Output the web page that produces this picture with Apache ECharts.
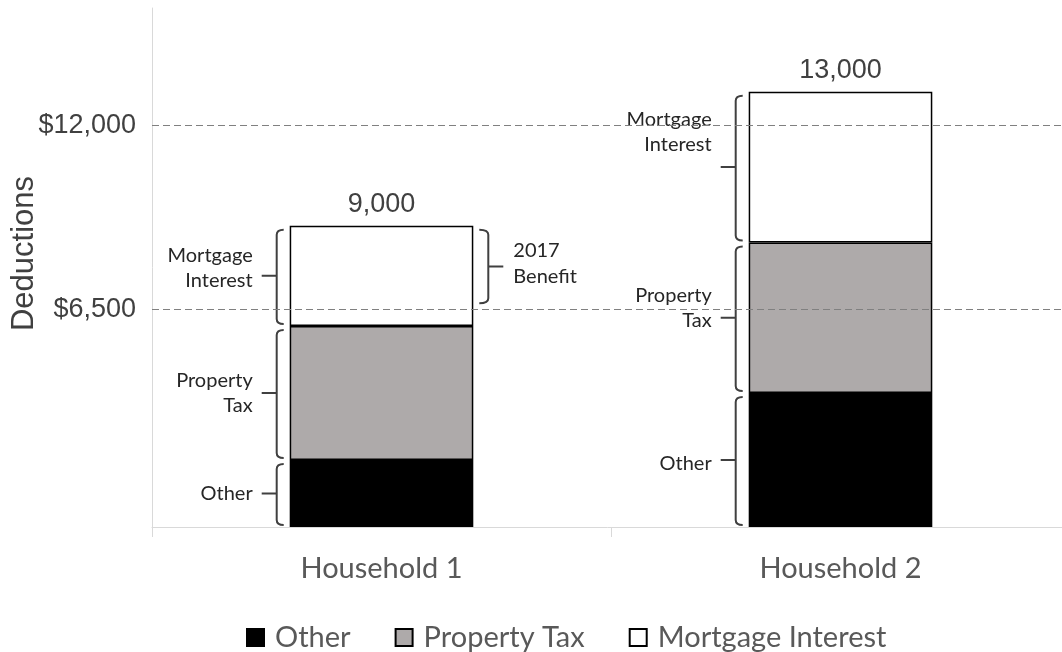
<!DOCTYPE html>
<html>
<head>
<meta charset="utf-8">
<title>Deductions by household</title>
<script src="https://cdn.jsdelivr.net/npm/echarts@6/dist/echarts.min.js"></script>
<style>
  html, body { margin: 0; padding: 0; background: #ffffff; }
  #chart { width: 1062px; height: 652px; }
</style>
</head>
<body>
<div id="chart"></div>
<script>
// Deduction components per household (dollars)
const categories = ['Household 1', 'Household 2'];
const otherValues = [2000, 4000];
const propertyTaxValues = [4000, 4500];
const mortgageValues = [3000, 4500];

// Reference thresholds drawn as dashed lines, with their axis labels
const thresholdValues = [6500, 12000];
const thresholdLabels = ['$6,500', '$12,000'];

// Bracket annotations
const seriesNames = ['Other', 'Property Tax', 'Mortgage Interest'];
const bracketTexts = ['Other', 'Property\nTax', 'Mortgage\nInterest'];
const benefitText = '2017\nBenefit';
const benefitCategory = 0;

// ---- derived values ----
const stacks = [otherValues, propertyTaxValues, mortgageValues];
const totals = categories.map((_, i) => stacks.reduce((s, arr) => s + arr[i], 0));

// one bracket per stacked segment: [categoryIndex, low, high, segmentIndex]
const bracketData = [];
categories.forEach((_, i) => {
  let base = 0;
  stacks.forEach((arr, s) => {
    bracketData.push([i, base, base + arr[i], s]);
    base += arr[i];
  });
});
const benefitData = [[benefitCategory, thresholdValues[0], totals[benefitCategory]]];

// layout settings for the annotations
const BAR_RATIO = 0.4;
const noteShiftY = [[0, 0, -8], [4, -10, -35]];
const INK = '#404040';
const LABEL_FONT = '"Liberation Sans", Arial, sans-serif';
const NOTE_FONT = 'Lato, "Open Sans", sans-serif';

const chart = echarts.init(document.getElementById('chart'), null, { renderer: 'canvas' });

function leftBracket(params, api) {
  const cat = api.value(0), lo = api.value(1), hi = api.value(2), s = api.value(3);
  const pLo = api.coord([cat, lo]);
  const pHi = api.coord([cat, hi]);
  const band = api.size([1, 0])[0];
  const barLeft = pLo[0] - band * BAR_RATIO / 2;
  const x = barLeft - 13;
  const yTop = pHi[1] + 4;
  const yBot = pLo[1] - 2;
  const yMid = (pHi[1] + pLo[1]) / 2;
  const path =
    'M' + (x + 7) + ' ' + yTop + ' Q' + x + ' ' + yTop + ' ' + x + ' ' + (yTop + 5) +
    ' L' + x + ' ' + (yBot - 5) + ' Q' + x + ' ' + yBot + ' ' + (x + 7) + ' ' + yBot +
    ' M' + x + ' ' + yMid + ' L' + (x - 15) + ' ' + yMid;
  return {
    type: 'group',
    children: [
      { type: 'path', shape: { pathData: path },
        style: { stroke: INK, lineWidth: 2, fill: null } },
      { type: 'text', z2: 10,
        style: {
          text: bracketTexts[s], x: barLeft - 37, y: yMid + noteShiftY[cat][s],
          align: 'right', verticalAlign: 'middle',
          font: '20px ' + NOTE_FONT, lineHeight: 25, fill: '#262626',
          backgroundColor: '#ffffff'
        } }
    ]
  };
}

function rightBracket(params, api) {
  const cat = api.value(0), lo = api.value(1), hi = api.value(2);
  const pLo = api.coord([cat, lo]);
  const pHi = api.coord([cat, hi]);
  const band = api.size([1, 0])[0];
  const barRight = pLo[0] + band * BAR_RATIO / 2;
  const x = barRight + 15;
  const yTop = pHi[1] + 4;
  const yBot = pLo[1] - 6;
  const yMid = (yTop + yBot) / 2;
  const path =
    'M' + (x - 9) + ' ' + yTop + ' Q' + x + ' ' + yTop + ' ' + x + ' ' + (yTop + 5) +
    ' L' + x + ' ' + (yBot - 5) + ' Q' + x + ' ' + yBot + ' ' + (x - 9) + ' ' + yBot +
    ' M' + x + ' ' + yMid + ' L' + (x + 15) + ' ' + yMid;
  return {
    type: 'group',
    children: [
      { type: 'path', shape: { pathData: path },
        style: { stroke: INK, lineWidth: 2, fill: null } },
      { type: 'text', z2: 10,
        style: {
          text: benefitText, x: x + 25, y: yMid - 3,
          align: 'left', verticalAlign: 'middle',
          font: '20px ' + NOTE_FONT, lineHeight: 26, fill: '#262626'
        } }
    ]
  };
}

const barStyle = (color) => ({ color: color, borderColor: '#000000', borderWidth: 1.5 });

chart.setOption({
  animation: false,
  backgroundColor: '#ffffff',
  grid: { left: 152, right: -8, top: 8, bottom: 125, containLabel: false, outerBoundsMode: 'none' },
  legend: {
    data: seriesNames,
    left: 241,
    top: 618,
    icon: 'rect',
    itemWidth: 17,
    itemHeight: 17,
    itemGap: 44,
    textStyle: { color: '#595959', fontSize: 29, fontFamily: NOTE_FONT, padding: [0, 0, 0, 6] }
  },
  xAxis: {
    type: 'category',
    data: categories,
    axisLine: { show: true, lineStyle: { color: '#d9d9d9', width: 1 } },
    axisTick: { show: true, alignWithLabel: false, length: 10, lineStyle: { color: '#d9d9d9' } },
    axisLabel: { color: '#595959', fontSize: 29, fontFamily: NOTE_FONT, margin: 27 },
    splitLine: { show: false }
  },
  yAxis: {
    type: 'value',
    min: 0,
    max: 15500,
    name: 'Deductions',
    nameLocation: 'middle',
    nameRotate: 90,
    nameGap: 112,
    nameMoveOverlap: false,
    nameTextStyle: { color: INK, fontSize: 31, fontFamily: LABEL_FONT, padding: [0, 0, 0, 28] },
    axisLine: { show: true, lineStyle: { color: '#d9d9d9', width: 1 } },
    axisTick: { show: false },
    splitLine: { show: false },
    axisLabel: {
      customValues: thresholdValues,
      formatter: (v) => thresholdLabels[thresholdValues.indexOf(v)] || '',
      color: INK, fontSize: 27, fontFamily: LABEL_FONT, margin: 16
    }
  },
  series: [
    {
      name: seriesNames[0], type: 'bar', stack: 'total', barWidth: (BAR_RATIO * 100) + '%',
      data: otherValues, itemStyle: barStyle('#000000')
    },
    {
      name: seriesNames[1], type: 'bar', stack: 'total', barWidth: (BAR_RATIO * 100) + '%',
      data: propertyTaxValues, itemStyle: barStyle('#aeaaaa')
    },
    {
      name: seriesNames[2], type: 'bar', stack: 'total', barWidth: (BAR_RATIO * 100) + '%',
      data: mortgageValues, itemStyle: barStyle('#ffffff'),
      label: {
        show: true, position: 'top', distance: 8,
        formatter: (p) => totals[p.dataIndex].toLocaleString('en-US'),
        color: INK, fontSize: 27, fontFamily: LABEL_FONT
      }
    },
    {
      name: 'thresholds', type: 'line', data: [], z: 3, silent: true,
      markLine: {
        silent: true, symbol: 'none', label: { show: false },
        lineStyle: { type: [7, 4], color: '#808080', width: 1.2 },
        data: thresholdValues.map((v) => ({ yAxis: v }))
      }
    },
    {
      name: 'brackets', type: 'custom', z: 4, silent: true,
      renderItem: leftBracket,
      encode: { x: 0, y: [1, 2] },
      data: bracketData
    },
    {
      name: 'benefit', type: 'custom', z: 4, silent: true,
      renderItem: rightBracket,
      encode: { x: 0, y: [1, 2] },
      data: benefitData
    }
  ]
});
</script>
</body>
</html>
